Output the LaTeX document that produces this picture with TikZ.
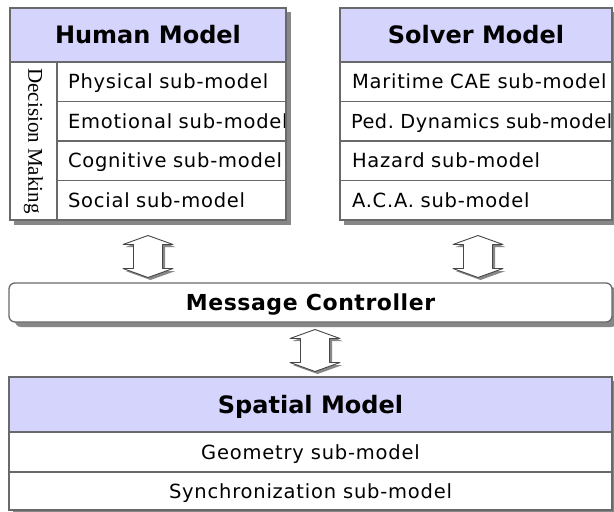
\documentclass[tikz,border=0pt]{standalone}
\usepackage{fontspec}
\setmainfont{DejaVu Sans}
\newfontfamily\rowfont[LetterSpace=4]{DejaVu Sans}
\newfontfamily\tightrowfont[LetterSpace=3]{DejaVu Sans}
\newfontfamily\ctlfont[LetterSpace=2.5]{DejaVu Sans}
\newfontfamily\serifdm{Liberation Serif}
\usetikzlibrary{calc,backgrounds}
\definecolor{hdrfill}{RGB}{212,212,252}
\definecolor{edgec}{RGB}{105,105,105}
\definecolor{shadowc}{RGB}{135,135,135}
\definecolor{arrowedge}{RGB}{70,70,70}
\frenchspacing

\tikzset{
  cell/.style={draw=edgec, line width=1.3pt, fill=white, rectangle,
    anchor=north west, inner sep=0pt, outer sep=0pt},
  hdr/.style={cell, fill=hdrfill, font=\bfseries\fontsize{24}{28}\selectfont,
    text height=17.5pt, text depth=0pt},
  rowl/.style={cell, font=\rowfont\fontsize{19.5}{22}\selectfont, align=left,
    text height=14.2pt, text depth=0pt, minimum height=39.5pt},
  hrow/.style={rowl, inner xsep=11pt, text width=207pt},
  srow/.style={rowl, inner xsep=12pt, text width=248pt},
  crow/.style={cell, font=\rowfont\fontsize{19.5}{22}\selectfont, minimum width=603pt,
    text height=14.2pt, text depth=0pt},
  shade/.style={fill=shadowc},
  pics/dblarrow/.style={code={
    \fill[shadowc] (2.5,-18.5) -- (27.5,-9.5) -- (17,-9.5) -- (17,14.5)
      -- (27.5,14.5) -- (2.5,23.5) -- (-22.5,14.5) -- (-12,14.5) -- (-12,-9.5)
      -- (-22.5,-9.5) -- cycle;
    \filldraw[fill=white, draw=arrowedge, line width=0.9pt, line join=round]
      (0,-21) -- (25,-12) -- (14.5,-12) -- (14.5,12) -- (25,12) -- (0,21)
      -- (-25,12) -- (-14.5,12) -- (-14.5,-12) -- (-25,-12) -- cycle;
  }}
}

\begin{document}
\begin{tikzpicture}[x=1pt,y=-1pt]
\useasboundingbox (0,0) rectangle (614,512);

% Human model
\node[hdr, minimum width=276pt, minimum height=54pt] (human) at (10,8) {Human Model};
\node[cell, rotate=-90, anchor=center, minimum width=158pt, minimum height=47pt,
  font=\serifdm\fontsize{21}{24}\selectfont] (dm) at (33.5,141) {Decision Making};
\node[hrow] (h1) at (57,62) {\mbox{Physical sub-model}};
\node[hrow] (h2) at (57,101.5) {\mbox{Emotional sub-model}};
\node[hrow] (h3) at (57,141) {\mbox{Cognitive sub-model}};
\node[hrow] (h4) at (57,180.5) {\mbox{Social sub-model}};

% Solver model
\node[hdr, minimum width=272pt, minimum height=54pt] (solver) at (340,8) {Solver Model};
\node[srow] (s1) at (340,62) {\mbox{Maritime CAE sub-model}};
\node[srow, inner xsep=11pt, text width=250pt,
  font=\tightrowfont\fontsize{19.3}{22}\selectfont] (s2) at (340,101.5) {\mbox{Ped. Dynamics sub-model}};
\node[srow] (s3) at (340,141) {\mbox{Hazard sub-model}};
\node[srow] (s4) at (340,180.5) {\mbox{A.C.A. sub-model}};

% Message controller
\node[cell, rounded corners=6pt, minimum width=603pt, minimum height=39pt,
  font=\ctlfont\bfseries\fontsize{22}{26}\selectfont, text height=16pt, text depth=0pt]
  (msg) at (9,283) {Message Controller};

% Spatial model
\node[hdr, minimum width=603pt, minimum height=55pt] (spatial) at (9,377) {Spatial Model};
\node[crow, minimum height=40pt] (geo) at (9,432) {Geometry sub-model};
\node[crow, minimum height=38pt] (sync) at (9,472) {Synchronization sub-model};

% right borders drawn again so that long row texts end under the frame
\foreach \n in {h2,s2}
  \draw[edgec, line width=1.3pt] (\n.north east) -- (\n.south east);

% drop shadows
\begin{scope}[on background layer]
  \fill[shade] ([shift={(4,4)}]human.north west) rectangle ([shift={(5,5)}]h4.south east);
  \fill[shade] ([shift={(4,4)}]solver.north west) rectangle ([shift={(5,5)}]s4.south east);
  \fill[shade, rounded corners=6pt] ([shift={(6,4)}]msg.north west) rectangle ([shift={(5,5)}]msg.south east);
  \fill[shade] ([shift={(4,4)}]spatial.north west) rectangle ([shift={(5,5)}]sync.south east);
\end{scope}

% exchange arrows between the models and the controller
\pic at ($(human.south |- h4.south)!0.5!(human.south |- msg.north)+(0,5)$) {dblarrow};
\pic at ($(solver.south |- s4.south)!0.5!(solver.south |- msg.north)+(2,5)$) {dblarrow};
\pic at ($(msg.south)!0.5!(spatial.north)+(4.5,1)$) {dblarrow};
\end{tikzpicture}
\end{document}
